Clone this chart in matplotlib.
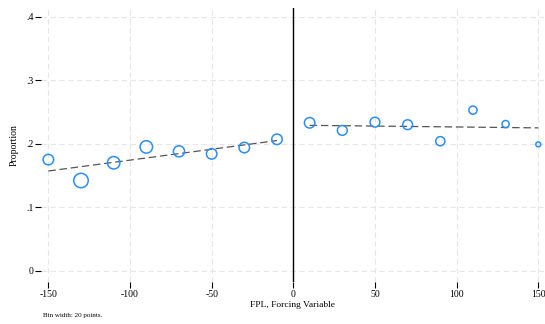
import matplotlib
matplotlib.use("Agg")
import matplotlib.pyplot as plt
import numpy as np

# Data
left_x = [-150, -130, -110, -90, -70, -50, -30, -10]
left_y = [0.175, 0.142, 0.170, 0.195, 0.188, 0.184, 0.194, 0.207]
left_n = [114, 216, 161, 161, 128, 114, 114, 114]
right_x = [10, 30, 50, 70, 90, 110, 130, 150]
right_y = [0.233, 0.221, 0.234, 0.230, 0.204, 0.253, 0.231, 0.199]
right_n = [114, 100, 100, 100, 87, 69, 53, 25]
left_fit_x = [-150, -10]
left_fit_y = [0.157, 0.205]
right_fit_x = [10, 150]
right_fit_y = [0.229, 0.225]
x_ticks = [-150, -100, -50, 0, 50, 100, 150]
y_ticks = [0, 0.1, 0.2, 0.3, 0.4]
y_ticklabels = ["0", ".1", ".2", ".3", ".4"]

plt.rcParams['font.family'] = ['Liberation Serif', 'DejaVu Serif']

fig = plt.figure(figsize=(5.45, 3.24), dpi=100)
ax = fig.add_axes([41/545, 1-282/324, 503/545, 274/324])

blue = '#2b8cff'
ax.scatter(left_x, left_y, s=np.array(left_n)*0.5, facecolors='none',
           edgecolors=blue, linewidths=1.1, zorder=3)
ax.scatter(right_x, right_y, s=np.array(right_n)*0.5, facecolors='none',
           edgecolors=blue, linewidths=1.1, zorder=3)
ax.plot(left_fit_x, left_fit_y, color='#555555', lw=0.9, dashes=(6, 3), zorder=2)
ax.plot(right_fit_x, right_fit_y, color='#555555', lw=0.9, dashes=(6, 3), zorder=2)
ax.axvline(0, color='black', lw=1.0, zorder=2)

ax.set_xlim(-154.5, 153.5)
ax.set_ylim(-0.018, 0.414)
ax.set_xticks(x_ticks)
ax.set_xticklabels([str(v) for v in x_ticks], fontsize=7)
ax.set_yticks(y_ticks)
ax.set_yticklabels(y_ticklabels, fontsize=7)
ax.tick_params(axis='both', length=4, width=0.8, color='black', pad=1.5)
ax.grid(True, color='#e6e6e6', lw=0.8, dashes=(5, 3))
ax.set_axisbelow(True)
for s in ax.spines.values():
    s.set_visible(False)

ax.set_xlabel("FPL, Forcing Variable", fontsize=6.8, labelpad=2)
ax.set_ylabel("Proportion", fontsize=7, labelpad=5)
fig.text(43/545, 1-316/324, "Bin width: 20 points.", fontsize=5, va='center', ha='left')

fig.savefig("out.png", dpi=100)
